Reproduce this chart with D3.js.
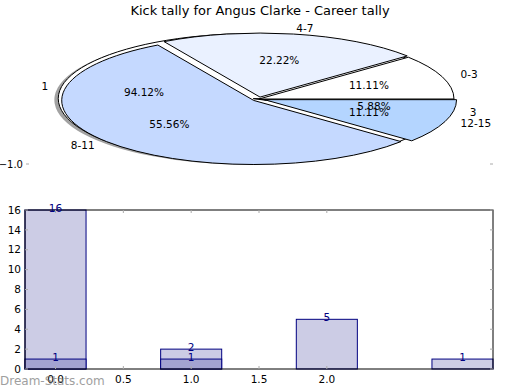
<!DOCTYPE html>
<html>
<head>
<meta charset="utf-8">
<script src="https://cdn.jsdelivr.net/npm/d3@7"></script>
<style>
  body { margin: 0; background: #fff; }
  text { font-family: "DejaVu Sans", sans-serif; }
</style>
</head>
<body>
<script>
const chartTitle = 'Kick tally for Angus Clarke - Career tally'

// outer pie (mostly hidden underneath)
const kickLabels = ['1', '3']
const kickCounts = [16, 1]
const kickExplode = [0.03, 0]

// career tally pie
const rangeLabels = ['0-3', '4-7', '8-11', '12-15']
const rangeCounts = [1, 2, 5, 1]
const rangeColors = ['#ffffff', '#eaf1ff', '#c5d9ff', '#b4d5ff']
const rangeExplode = [0, 0.03, 0.035, 0.03]
const rangeRadius = [1, 0.985, 0.985, 0.985]

// bars
const barX = [0, 1, 2, 3]
const barValues = [16, 2, 5, 1]
const overlayX = [0, 1]
const overlayValues = [1, 1]
const xTicks = [0, 0.5, 1, 1.5, 2]
const yTicks = [0, 2, 4, 6, 8, 10, 12, 14, 16]

const W = 520, H = 390
const svg = d3.select('body').append('svg')
  .attr('width', W)
  .attr('height', H)

svg.append('text')
  .attr('x', 260)
  .attr('y', 15)
  .attr('text-anchor', 'middle')
  .attr('font-size', '13px')
  .text(chartTitle)

// ---- pie part ----
const px = d3.scaleLinear().domain([-1.2, 1.2]).range([25, 493])
const py = d3.scaleLinear().domain([-1, 0]).range([164, 99])
const sx = px(1) - px(0), sy = py(0) - py(1)

// matplotlib style: start at 3 o'clock, counterclockwise
const pie = d3.pie().sort(null)
  .startAngle(Math.PI / 2)
  .endAngle(Math.PI / 2 - 2 * Math.PI)

const pieG = svg.append('g')
  .attr('transform', `translate(${px(0)},${py(0)})`)

// -1.0 tick of the pie axes
svg.append('text')
  .attr('x', 23).attr('y', py(-1))
  .attr('dy', '0.35em')
  .attr('text-anchor', 'end')
  .attr('font-size', '10px')
  .text('\u22121.0')
;[26, 490].forEach(xx => {
  svg.append('line')
    .attr('x1', xx).attr('x2', xx + 3)
    .attr('y1', py(-1)).attr('y2', py(-1))
    .attr('stroke', '#aaa')
})

const unitArc = d3.arc().innerRadius(0)
const shift = (a, d) => {
  const mid = (a.startAngle + a.endAngle) / 2
  return `translate(${d * Math.sin(mid)},${-d * Math.cos(mid)})`
}

const kickArcs = pie(kickCounts)
// shadow
kickArcs.forEach((a, i) => {
  pieG.append('path')
    .attr('transform', `translate(${-0.02 * sx},${0.02 * sy}) scale(${sx},${sy}) ${shift(a, kickExplode[i])}`)
    .attr('d', unitArc.outerRadius(1)(a))
    .attr('fill', '#555')
    .attr('opacity', 0.55)
})
kickArcs.forEach((a, i) => {
  pieG.append('path')
    .attr('transform', `scale(${sx},${sy}) ${shift(a, kickExplode[i])}`)
    .attr('d', unitArc.outerRadius(1)(a))
    .attr('fill', '#fff')
    .attr('stroke', '#000')
    .attr('stroke-width', 1)
    .attr('vector-effect', 'non-scaling-stroke')
})

const rangeArcs = pie(rangeCounts)
rangeArcs.forEach((a, i) => {
  pieG.append('path')
    .attr('transform', `scale(${sx},${sy}) ${shift(a, rangeExplode[i])}`)
    .attr('d', unitArc.outerRadius(rangeRadius[i])(a))
    .attr('fill', rangeColors[i])
    .attr('stroke', '#000')
    .attr('stroke-width', 1)
    .attr('vector-effect', 'non-scaling-stroke')
})

function pieLabels(arcs, labels, total) {
  arcs.forEach((a, i) => {
    const mid = (a.startAngle + a.endAngle) / 2
    const lx = Math.sin(mid), ly = -Math.cos(mid)
    svg.append('text')
      .attr('x', px(0) + 1.1 * lx * sx)
      .attr('y', py(0) + 1.1 * ly * sy)
      .attr('dy', '0.35em')
      .attr('text-anchor', lx > 0 ? 'start' : 'end')
      .attr('font-size', '10.5px')
      .text(labels[i])
    svg.append('text')
      .attr('x', px(0) + 0.6 * lx * sx)
      .attr('y', py(0) + 0.6 * ly * sy)
      .attr('dy', '0.35em')
      .attr('text-anchor', 'middle')
      .attr('font-size', '10.5px')
      .text((a.data / total * 100).toFixed(2) + '%')
  })
}
pieLabels(kickArcs, kickLabels, d3.sum(kickCounts))
pieLabels(rangeArcs, rangeLabels, d3.sum(rangeCounts))

// ---- bar part ----
const plotL = 25, plotR = 493, plotT = 210, plotB = 369
const x = d3.scaleLinear().domain([-0.225, 3.225]).range([plotL, plotR])
const y = d3.scaleLinear().domain([0, 16]).range([plotB, plotT])
const bw = 0.45

const barsG = svg.append('g')
barX.forEach((bx, i) => {
  barsG.append('rect')
    .attr('x', x(bx - bw / 2))
    .attr('y', y(barValues[i]))
    .attr('width', x(bx + bw / 2) - x(bx - bw / 2))
    .attr('height', y(0) - y(barValues[i]))
    .attr('fill', '#ccccE5')
    .attr('stroke', '#000080')
})
overlayX.forEach((bx, i) => {
  barsG.append('rect')
    .attr('x', x(bx - bw / 2))
    .attr('y', y(overlayValues[i]))
    .attr('width', x(bx + bw / 2) - x(bx - bw / 2))
    .attr('height', y(0) - y(overlayValues[i]))
    .attr('fill', '#a3a3d1')
    .attr('stroke', '#000080')
})

// frame
svg.append('rect')
  .attr('x', plotL).attr('y', plotT)
  .attr('width', plotR - plotL).attr('height', plotB - plotT)
  .attr('fill', 'none')
  .attr('stroke', '#000')

// y axis ticks (both sides, inside)
yTicks.forEach(t => {
  svg.append('line')
    .attr('x1', plotL).attr('x2', plotL + 3)
    .attr('y1', y(t)).attr('y2', y(t))
    .attr('stroke', '#aaa')
  svg.append('line')
    .attr('x1', plotR - 3).attr('x2', plotR)
    .attr('y1', y(t)).attr('y2', y(t))
    .attr('stroke', '#aaa')
  svg.append('text')
    .attr('x', plotL - 4).attr('y', y(t))
    .attr('dy', '0.35em')
    .attr('text-anchor', 'end')
    .attr('font-size', '10.5px')
    .text(t)
})
xTicks.forEach(t => {
  svg.append('line')
    .attr('x1', x(t)).attr('x2', x(t))
    .attr('y1', plotT).attr('y2', plotT + 3)
    .attr('stroke', '#aaa')
  svg.append('line')
    .attr('x1', x(t)).attr('x2', x(t))
    .attr('y1', plotB - 3).attr('y2', plotB)
    .attr('stroke', '#aaa')
  svg.append('text')
    .attr('x', x(t)).attr('y', plotB + 14)
    .attr('text-anchor', 'middle')
    .attr('font-size', '10.5px')
    .text(t.toFixed(1))
})

// value labels
function barLabels(xs, vals) {
  xs.forEach((bx, i) => {
    svg.append('text')
      .attr('x', x(bx)).attr('y', y(vals[i]) - 2)
      .attr('dy', '0.35em')
      .attr('text-anchor', 'middle')
      .attr('font-size', '10.5px')
      .attr('fill', '#000080')
      .text(vals[i])
  })
}
barLabels(barX, barValues)
barLabels(overlayX, overlayValues)

// watermark
svg.append('text')
  .attr('x', 0).attr('y', 385)
  .attr('font-size', '12px')
  .attr('fill', '#777')
  .attr('opacity', 0.7)
  .text('Dream-Stats.com')
</script>
</body>
</html>
